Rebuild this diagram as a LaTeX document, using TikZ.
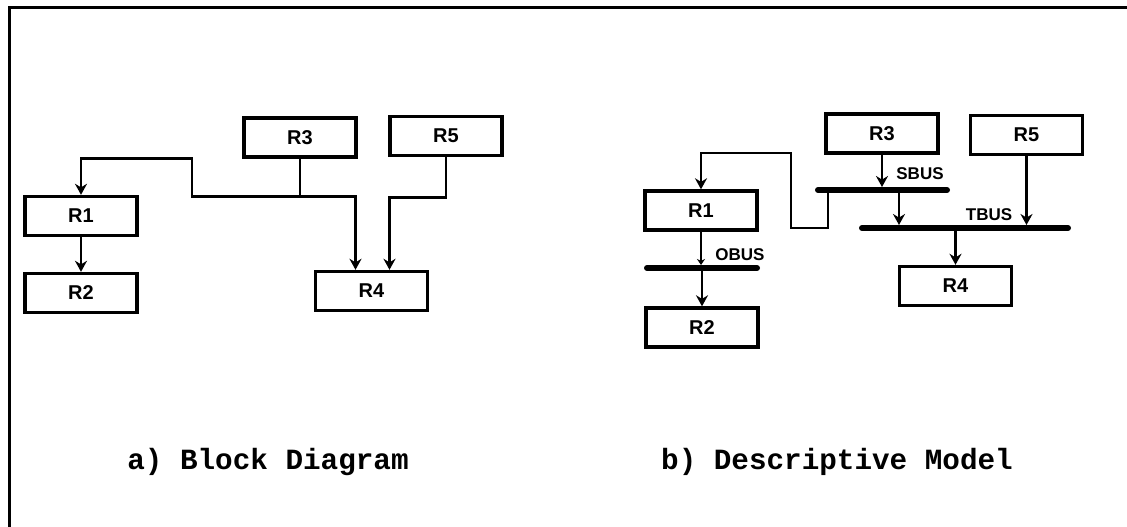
\documentclass[tikz,border=0pt]{standalone}
\usepackage{fontspec}
\setmonofont{Liberation Mono}
\setsansfont{Liberation Sans}
\usetikzlibrary{arrows.meta, positioning, calc}

\begin{document}
\begin{tikzpicture}[x=1pt, y=-1pt,
  blk/.style={draw, line width=3.4pt, minimum width=112pt, minimum height=39pt,
              inner sep=0pt, font=\sffamily\bfseries\fontsize{20}{20}\selectfont},
  wire/.style={line width=2.6pt},
  arr/.style={wire, -{Stealth[length=11pt, width=12pt]}},
  busbar/.style={line width=6pt, line cap=round},
  buslbl/.style={font=\sffamily\bfseries\fontsize{17}{17}\selectfont},
  caption/.style={font=\ttfamily\bfseries\fontsize{29.3}{29.3}\selectfont}]
  \useasboundingbox (0,0) rectangle (1127,527);

  % frame (top and left edge only)
  \draw[line width=3pt] (9,527) -- (9,8) -- (1127,8);

  % a) block diagram --- boxes
  \foreach \n/\x/\y in {R1/81/216, R2/81/293, R3/300/137.5, R4/371.5/291, R5/446/136} {
    \node[blk] (a\n) at (\x,\y) {\n};
  }
  % connections
  \draw[arr] (aR1.south) -- (aR2.north);
  \draw[wire] (aR3.south) -- ++(0,38) coordinate (aj);
  \draw[arr] (aj) -- ++(-108,0) -- ++(0,-38) -| (aR1.north);
  \draw[arr] (aj) -| ([xshift=-16pt]aR4.north);
  \draw[arr] (aR5.south) -- ++(0,40) -| ([xshift=18pt]aR4.north);

  % b) descriptive model --- boxes
  \foreach \n/\x/\y in {R1/701/210.5, R2/702/327.5, R3/882/133.5, R4/955.5/286, R5/1026.5/135} {
    \node[blk] (b\n) at (\x,\y) {\n};
  }
  % buses
  \coordinate (sbusL) at (818,190);  \coordinate (sbusR) at (947,190);
  \coordinate (tbusL) at (862,228);  \coordinate (tbusR) at (1068,228);
  \coordinate (obusL) at (647,268);  \coordinate (obusR) at (757,268);
  \draw[busbar] (sbusL) -- (sbusR);
  \draw[busbar] (tbusL) -- (tbusR);
  \draw[busbar] (obusL) -- (obusR);
  \node[buslbl] (sbus) at (920,174) {SBUS};
  \node[buslbl] (tbus) at (989,215) {TBUS};
  \node[buslbl] (obus) at (740,255) {OBUS};

  % bus connections
  \draw[arr, shorten >=3pt] (bR3.south) -- (bR3.south |- sbusL);
  \coordinate (sdrop) at (899,190);
  \draw[arr, shorten >=3pt] (sdrop) -- (sdrop |- tbusL);
  \draw[arr, shorten >=3pt] (bR5.south) -- (bR5.south |- tbusL);
  \draw[arr] (bR4.north |- tbusL) -- (bR4.north);
  \coordinate (sfeed) at (828,190);
  \draw[arr] (sfeed) -- ++(0,38) -- ++(-37,0) -- ++(0,-75) -| (bR1.north);
  \draw[wire, -{Stealth[length=6pt, width=8pt]}, shorten >=3pt]
    (bR1.south) -- (bR1.south |- obusL);
  \draw[arr] (bR2.north |- obusL) -- (bR2.north);

  % captions
  \node[caption] (capa) at (268,462) {a) Block Diagram};
  \node[caption] (capb) at (837,462) {b) Descriptive Model};
\end{tikzpicture}
\end{document}
